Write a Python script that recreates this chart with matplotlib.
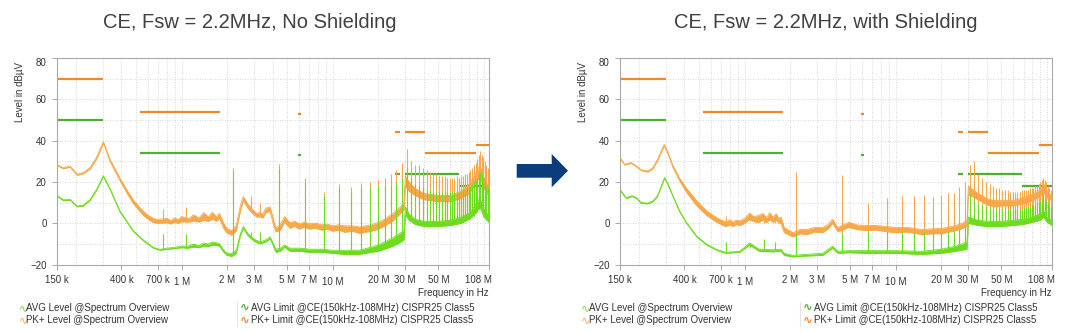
import matplotlib
matplotlib.use("Agg")
import matplotlib.pyplot as plt
from matplotlib.patches import Polygon
from matplotlib.lines import Line2D
from matplotlib.ticker import FixedLocator, NullFormatter, LogLocator
from matplotlib.transforms import ScaledTranslation

plt.rcParams['font.family'] = ['Liberation Sans', 'DejaVu Sans']

# ---------------- data (frequency in MHz, level in dBuV) ----------------
TITLES = ["CE, Fsw = 2.2MHz, No Shielding", "CE, Fsw = 2.2MHz, with Shielding"]
XTICKS = [0.15, 0.4, 0.7, 1, 2, 3, 5, 7, 10, 20, 30, 50, 108]
XTICK_LABELS = ["150 k", "400 k", "700 k", "1 M", "2 M", "3 M", "5 M", "7 M", "10 M",
                "20 M", "30 M", "50 M", "108 M"]
YTICKS = [-20, 0, 20, 40, 60, 80]

# limits: start, stop, level
PK_LIM_START = [0.15, 0.53, 5.9, 26, 30, 41, 88]
PK_LIM_STOP = [0.30, 1.8, 6.2, 28, 41, 88, 108]
PK_LIM_LEVEL = [70, 54, 53, 44, 44, 34, 38]
AVG_LIM_START = [0.15, 0.53, 5.9, 26, 30, 68]
AVG_LIM_STOP = [0.30, 1.8, 6.2, 28, 68, 108]
AVG_LIM_LEVEL = [50, 34, 33, 24, 24, 18]

# ---- No shielding ----
L_PK_F = [0.150, 0.165, 0.183, 0.204, 0.224, 0.248, 0.274, 0.304, 0.336, 0.392, 0.44, 0.48,
          0.52, 0.56, 0.60, 0.65, 0.70, 0.80, 0.85, 0.90, 0.95, 1.00, 1.12, 1.20, 1.30, 1.40,
          1.50, 1.60, 1.70, 1.78, 1.90, 2.00, 2.15, 2.30, 2.45, 2.56, 2.75, 3.00, 3.15, 3.30,
          3.45, 3.60, 3.85, 4.05, 4.20, 4.50, 4.80, 5.20, 5.60, 6.00, 6.50, 7.00, 7.70, 8.50,
          9.20, 10.0, 11.0, 12.0, 13.5, 15.0, 16.5, 18.0, 20.0, 22.0, 25.0, 27.5, 29.6, 30.2,
          32.0, 35.0, 40.0, 50.0, 60.0, 70.0, 80.0, 88.0, 94.0, 100.0, 108.0]
L_PK_LO = [28.0, 26.4, 27.2, 23.2, 24.0, 26.2, 31.0, 38.8, 30.0, 20.5, 14.0, 9.5,
           6.5, 3.8, 2.0, 0.4, 0.0, 0.3, -0.3, 0.5, 0.0, 0.8, 0.6, 1.2, 0.6, 1.6,
           1.0, 2.0, 1.0, 2.4, -2.5, -4.8, -5.6, -3.8, 6.0, 11.0, 7.2, 4.2, 3.0, 3.2,
           2.6, 5.0, 6.0, -0.8, -4.2, -3.3, 0.6, -2.4, -1.4, -2.8, -1.8, -2.8, -2.3, -3.3,
           -2.8, -3.8, -3.3, -4.3, -3.8, -4.8, -4.3, -3.8, -2.8, -1.3, 1.2, 4.2, 6.5, 18.0,
           15.5, 13.5, 11.5, 10.5, 10.5, 12.0, 14.5, 19.0, 23.0, 17.0, 13.0]
L_PK_HI = [28.5, 26.9, 27.7, 23.8, 24.6, 27.0, 32.0, 39.5, 31.0, 21.8, 15.6, 11.3,
           8.3, 5.8, 4.0, 2.4, 1.9, 2.4, 1.4, 2.7, 1.8, 3.3, 2.3, 4.2, 2.6, 5.2,
           3.2, 5.4, 3.2, 4.8, 0.0, -2.6, -3.5, -1.0, 8.6, 13.0, 9.2, 6.2, 4.8, 5.3,
           4.4, 7.3, 8.0, 1.8, -2.2, -0.6, 3.3, 0.3, 1.0, -0.2, 0.6, -0.2, 0.1, -0.7,
           -0.4, -1.2, -0.7, -1.2, -1.2, -1.7, -1.2, -0.7, 0.5, 2.0, 4.8, 7.5, 10.0, 23.0,
           20.0, 17.0, 14.5, 13.5, 13.5, 15.5, 19.0, 24.0, 28.0, 22.0, 17.0]
L_AVG_F = [0.150, 0.165, 0.183, 0.204, 0.224, 0.248, 0.274, 0.304, 0.336, 0.392, 0.48, 0.56,
           0.65, 0.72, 0.80, 0.90, 1.00, 1.10, 1.20, 1.30, 1.40, 1.50, 1.60, 1.78, 1.90, 2.00,
           2.15, 2.30, 2.45, 2.56, 2.75, 3.00, 3.30, 3.60, 3.85, 4.05, 4.20, 4.50, 4.80, 5.20,
           6.00, 7.00, 8.50, 10.0, 12.0, 15.0, 18.0, 20.0, 22.0, 25.0, 27.5, 29.6, 30.2, 32.0,
           35.0, 40.0, 50.0, 60.0, 70.0, 80.0, 88.0, 94.0, 100.0, 108.0]
L_AVG_LO = [13.2, 11.0, 11.2, 8.0, 8.4, 11.0, 16.0, 22.6, 16.5, 5.5, -4.0, -8.5,
            -12.0, -13.0, -12.6, -12.2, -11.8, -12.0, -11.5, -11.8, -11.0, -11.2, -10.5, -11.0, -14.0, -15.5,
            -16.0, -14.5, -6.0, -2.5, -6.0, -8.5, -10.0, -9.0, -7.5, -11.0, -14.0, -13.5, -11.5, -13.5,
            -13.5, -14.0, -14.0, -14.5, -15.0, -15.0, -14.0, -13.5, -12.5, -11.0, -9.5, -8.0, 4.0, 1.5,
            -0.5, -1.5, -1.5, -1.0, 0.0, 2.0, 5.0, 8.0, 3.0, 0.5]
L_AVG_HI = [13.6, 11.4, 11.6, 8.4, 8.8, 11.4, 16.4, 23.0, 16.9, 5.9, -3.6, -8.1,
            -11.6, -12.6, -12.0, -11.6, -11.0, -11.0, -10.0, -10.8, -9.5, -10.0, -9.0, -9.8, -13.0, -14.5,
            -14.5, -13.0, -5.0, -1.5, -5.0, -7.5, -9.0, -8.0, -6.5, -10.0, -12.5, -12.0, -10.5, -12.0,
            -12.0, -12.5, -12.5, -13.0, -13.0, -13.0, -11.5, -10.5, -9.0, -7.0, -5.0, -3.5, 8.0, 4.5,
            2.0, 1.0, 1.0, 1.5, 3.0, 5.0, 9.0, 12.0, 7.0, 3.5]
# spikes: frequency, PK bottom/top, AVG bottom/top
L_SPK_F = [0.75, 1.07, 2.2, 2.9, 3.3, 4.4, 6.6, 8.8, 11.0, 13.2, 15.4, 17.6, 19.8, 22.0, 24.2,
           26.4, 28.6, 30.8, 33.0, 35.2, 37.4, 39.6, 41.8, 44.0, 46.2, 48.4, 50.6, 52.8, 55.0,
           57.2, 59.4, 61.6, 63.8, 66.0, 68.2, 70.4, 72.6, 74.8, 77.0, 79.2, 81.4, 83.6, 85.8,
           88.0, 90.2, 92.4, 94.6, 96.8, 99.0, 101.2, 103.4, 105.6, 107.8]
L_SPK_PK_LO = [0.5, 1.0, -15, 6.0, 4.0, -13, -12.5, -12.5, -13, -13, -13, -12, -11, -10, -9,
               -7, -5, 5, 2, 0, -0.5, -1, -1.5, -1.5, -1.5, -1.5, -1.5, -1.5, -1.5,
               -1, -1, -1, -0.5, -0.5, 0, 0, 0.5, 1, 1.5, 2, 2.5, 3, 3.5,
               5, 6, 7, 8, 7, 5, 3, 2, 1, 0.5]
L_SPK_PK_HI = [7, 8, 27, 13, 10, 28.5, 22, 15, 19, 17.5, 19.5, 20, 21, 22, 24,
               26, 29, 36, 30, 28, 28, 27, 26, 25, 24, 24, 23, 23, 23,
               22, 22, 22, 22, 23, 22, 23, 23, 24, 24, 25, 26, 27, 28,
               29, 31, 33, 35, 33, 32, 30, 28, 27, 25]
L_SPK_AVG_LO = [-13, -12, -15, -6, -9, -13, -12.5, -12.5, -13, -13, -13, -12, -11, -10, -9,
                -7, -5, 5, 2, 0, -0.5, -1, -1.5, -1.5, -1.5, -1.5, -1.5, -1.5, -1.5,
                -1, -1, -1, -0.5, -0.5, 0, 0, 0.5, 1, 1.5, 2, 2.5, 3, 3.5,
                5, 6, 7, 8, 7, 5, 3, 2, 1, 0.5]
L_SPK_AVG_HI = [-5, -5, 25, -4, -4, 26.5, 20, 13, 17, 15, 17, 17, 18, 18, 19,
                20, 22, 27, 22, 19, 18, 17, 16, 16, 15, 15, 15, 15, 15,
                15, 15, 15, 15, 15, 15, 16, 16, 16, 17, 17, 18, 19, 20,
                21, 22, 24, 25, 24, 22, 20, 18, 17, 16]

# ---- With shielding ----
R_PK_F = [0.150, 0.161, 0.178, 0.193, 0.207, 0.229, 0.248, 0.266, 0.294, 0.312, 0.336, 0.372,
          0.413, 0.482, 0.562, 0.653, 0.70, 0.75, 0.80, 0.84, 0.88, 0.93, 1.00, 1.08, 1.15,
          1.25, 1.32, 1.40, 1.47, 1.54, 1.62, 1.68, 1.74, 1.83, 2.09, 2.35, 2.57, 2.9, 3.29,
          3.55, 3.82, 4.14, 4.9, 5.6, 6.4, 7.4, 8.6, 10.0, 12.0, 15.0, 17.5, 20.0, 22.5,
          25.0, 27.5, 29.6, 30.2, 35.0, 40.0, 45.0, 50.0, 60.0, 70.0, 80.0, 90.0, 95.0,
          100.0, 108.0]
R_PK_LO = [31.5, 28.2, 29.0, 27.4, 25.5, 24.8, 26.4, 30.3, 37.6, 33.5, 27.0, 20.5,
           15.0, 8.5, 3.8, 0.5, -0.5, -1.5, -0.8, -1.5, -0.6, -1.0, 0.0, 2.0, 0.8,
           0.5, 1.5, 0.4, 1.8, 0.5, 1.6, 0.2, 0.0, -4.5, -6.5, -5.0, -5.5, -4.2, -4.5,
           -2.8, 0.0, -4.0, -2.0, -3.0, -3.5, -3.2, -4.0, -4.5, -4.2, -5.5, -5.0, -5.0, -4.2,
           -3.5, -2.5, -1.5, 14.0, 11.5, 9.0, 8.0, 8.5, 8.5, 9.5, 11.0, 13.0, 15.0,
           12.5, 11.0]
R_PK_HI = [31.9, 28.6, 29.4, 27.8, 25.9, 25.4, 27.0, 31.0, 38.2, 34.3, 28.0, 21.8,
           17.0, 11.0, 6.0, 2.8, 1.6, 0.8, 1.8, 0.6, 1.6, 1.2, 2.4, 5.0, 3.2,
           4.0, 4.8, 2.8, 5.2, 3.0, 4.6, 2.4, 3.0, -2.0, -4.5, -2.8, -3.0, -2.0, -2.0,
           -0.6, 2.0, -2.0, 0.5, -0.8, -1.0, -1.0, -1.5, -2.0, -2.0, -3.0, -2.6, -2.5, -1.8,
           -1.0, 0.0, 1.5, 18.0, 14.5, 12.0, 11.0, 11.0, 11.0, 12.5, 14.0, 16.0, 19.0,
           15.5, 13.5]
R_AVG_F = [0.150, 0.165, 0.180, 0.193, 0.207, 0.229, 0.248, 0.266, 0.296, 0.312, 0.336, 0.372,
           0.413, 0.482, 0.562, 0.653, 0.75, 0.93, 1.08, 1.25, 1.54, 1.74, 1.83, 2.09, 2.57,
           3.29, 3.82, 4.14, 4.9, 6.4, 10.0, 15.0, 20.0, 25.0, 29.6, 30.2, 35.0, 40.0, 50.0,
           60.0, 70.0, 80.0, 90.0, 95.0, 100.0, 108.0]
R_AVG_LO = [16.0, 12.0, 13.0, 12.0, 9.7, 9.4, 10.5, 13.0, 21.8, 18.5, 13.0, 5.6,
            0.0, -6.5, -10.5, -13.0, -14.5, -14.0, -10.5, -13.5, -13.8, -13.5, -15.5, -16.2, -15.8,
            -15.5, -12.0, -14.5, -14.2, -14.5, -14.5, -15.0, -14.5, -13.5, -12.5, 0.0, -1.0, -1.5, -1.5,
            -1.0, -0.5, 0.5, 1.5, 3.0, 0.5, -1.0]
R_AVG_HI = [16.4, 12.4, 13.4, 12.4, 10.1, 9.8, 10.9, 13.4, 22.2, 18.9, 13.4, 6.0,
            0.4, -6.1, -10.1, -12.6, -14.0, -13.5, -9.5, -12.5, -12.8, -12.5, -14.5, -15.5, -15.0,
            -14.5, -11.0, -13.5, -13.2, -13.2, -13.2, -13.5, -12.5, -11.0, -9.0, 3.0, 1.5, 1.0, 1.0,
            1.5, 2.0, 3.0, 4.5, 6.0, 3.0, 1.5]
R_SPK_F = [0.75, 1.08, 1.35, 1.6, 2.2, 4.4, 6.6, 8.8, 11.0, 13.2, 15.4, 17.6, 19.8, 22.0, 24.2,
           26.4, 28.6, 30.8, 33.0, 35.2, 37.4, 39.6, 41.8, 44.0, 46.2, 48.4, 50.6, 52.8, 55.0,
           57.2, 59.4, 61.6, 63.8, 66.0, 68.2, 70.4, 72.6, 74.8, 77.0, 79.2, 81.4, 83.6, 85.8,
           88.0, 90.2, 92.4, 94.6, 96.8, 99.0, 101.2, 103.4, 105.6, 107.8]
R_SPK_PK_LO = [-1, 1, 0, 0, -16, -14, -14, -14, -14, -14, -14, -14, -13.5, -13.5, -13,
               -12.5, -12, 1, 0.5, 0, -0.5, -1, -1, -1, -1, -1, -1, -1, -1,
               -0.5, -0.5, 0, 0, 0, 0.5, 0.5, 1, 1, 1.5, 1.5, 2, 2, 2.5,
               3, 3.5, 4, 5, 4, 3, 2, 1, 0, -0.5]
R_SPK_PK_HI = [3.5, 5, 4, 4, 25, 23.4, 9.7, 12.4, 13, 13, 13.7, 12.9, 13.7, 14.5, 14.8,
               17.7, 20, 28, 30, 24, 22, 20, 19, 18, 17, 17, 16, 16, 16,
               15, 15, 15, 15, 15, 16, 16, 16, 16, 17, 17, 17, 18, 18,
               19, 20, 21, 22, 21, 20, 18, 17, 16, 15]
R_SPK_AVG_LO = [-14.5, -12, -13, -13, -16, -14, -14, -14, -14, -14, -14, -14, -13.5, -13.5, -13,
                -12.5, -12, 1, 0.5, 0, -0.5, -1, -1, -1, -1, -1, -1, -1, -1,
                -0.5, -0.5, 0, 0, 0, 0.5, 0.5, 1, 1, 1.5, 1.5, 2, 2, 2.5,
                3, 3.5, 4, 5, 4, 3, 2, 1, 0, -0.5]
R_SPK_AVG_HI = [-9, -9.7, -7.6, -9, -5, -5, -4, -4, -4, -4, -4, -4, -4, -4, -4,
                -3, -2, 14, 12, 10, 9, 8, 8, 7, 7, 7, 7, 7, 7,
                7, 7, 7, 7, 7, 7, 8, 8, 8, 8, 9, 9, 9, 10,
                10, 11, 12, 13, 12, 11, 10, 9, 8, 7]

# ---------------- styling ----------------
PK_TRACE = "#F8A848"
AVG_TRACE = "#6EDC1E"
PK_LIMIT = "#F08A26"
AVG_LIMIT = "#4DB030"
GRID = "#C8C8C8"
FRAME = "#A8A8A8"
TXT = "#333333"

W, H = 1080, 332
fig = plt.figure(figsize=(W / 100, H / 100), dpi=100)
fig.patch.set_facecolor("white")


def fx(px):
    return px / W


def fy(py):
    return 1 - py / H


panels = [
    dict(left=57, title_x=250, pk=(L_PK_F, L_PK_LO, L_PK_HI), avg=(L_AVG_F, L_AVG_LO, L_AVG_HI),
         spk=(L_SPK_F, L_SPK_PK_LO, L_SPK_PK_HI, L_SPK_AVG_LO, L_SPK_AVG_HI)),
    dict(left=620, title_x=826, pk=(R_PK_F, R_PK_LO, R_PK_HI), avg=(R_AVG_F, R_AVG_LO, R_AVG_HI),
         spk=(R_SPK_F, R_SPK_PK_LO, R_SPK_PK_HI, R_SPK_AVG_LO, R_SPK_AVG_HI)),
]

top_px, bot_px, wid_px = 58, 264.7, 432

for i, p in enumerate(panels):
    ax = fig.add_axes([fx(p["left"]), fy(bot_px), fx(wid_px), (bot_px - top_px) / H])
    ax.set_xscale("log")
    ax.set_xlim(0.15, 108)
    ax.set_ylim(-20, 80)

    # grid
    ax.xaxis.set_minor_locator(LogLocator(base=10, subs=range(1, 10), numticks=20))
    ax.xaxis.set_minor_formatter(NullFormatter())
    ax.xaxis.set_major_locator(FixedLocator(XTICKS))
    ax.set_xticklabels(XTICK_LABELS)
    ax.set_yticks(YTICKS)
    ax.set_yticks(list(range(-10, 80, 20)), minor=True)
    ax.grid(True, which="both", axis="both", color=GRID, linestyle=(0, (1, 2)), linewidth=0.6)
    ax.set_axisbelow(True)
    ax.tick_params(axis="x", which="minor", length=0)
    ax.tick_params(axis="y", which="minor", length=0)
    ax.tick_params(axis="both", which="major", length=3.5, width=0.7, color=FRAME,
                   labelsize=7, labelcolor=TXT)
    ax.tick_params(axis="x", which="major", pad=4)
    ax.tick_params(axis="y", which="major", pad=4)
    for s in ax.spines.values():
        s.set_color(FRAME)
        s.set_linewidth(0.8)

    # tick label tweaks
    xl = ax.get_xticklabels()
    for lab, txt in zip(xl, XTICK_LABELS):
        if txt in ("1 M", "10 M"):
            lab.set_transform(lab.get_transform() + ScaledTranslation(0, -1.5 / 72, fig.dpi_scale_trans))
        if txt == "108 M":
            lab.set_horizontalalignment("right")
            lab.set_transform(lab.get_transform() + ScaledTranslation(2 / 72, 0, fig.dpi_scale_trans))
    yl = ax.get_yticklabels()
    yl[-1].set_verticalalignment("top")

    # limits (beneath data)
    ax.hlines(PK_LIM_LEVEL, PK_LIM_START, PK_LIM_STOP, colors=PK_LIMIT, linewidth=1.6, zorder=2)
    ax.hlines(AVG_LIM_LEVEL, AVG_LIM_START, AVG_LIM_STOP, colors=AVG_LIMIT, linewidth=1.6, zorder=2)

    # PK trace
    f, lo, hi = p["pk"]
    ax.fill_between(f, lo, hi, color=PK_TRACE, linewidth=0, zorder=3)
    ax.plot(f, lo, color=PK_TRACE, linewidth=0.6, zorder=3)
    ax.plot(f, hi, color=PK_TRACE, linewidth=0.6, zorder=3)
    sf, plo, phi, alo, ahi = p["spk"]
    ax.vlines(sf, plo, phi, colors=PK_TRACE, linewidth=0.8, zorder=3)

    # AVG trace
    f, lo, hi = p["avg"]
    ax.fill_between(f, lo, hi, color=AVG_TRACE, linewidth=0, zorder=4)
    ax.plot(f, lo, color=AVG_TRACE, linewidth=0.6, zorder=4)
    ax.plot(f, hi, color=AVG_TRACE, linewidth=0.6, zorder=4)
    ax.vlines(sf, alo, ahi, colors=AVG_TRACE, linewidth=0.8, zorder=4)

    # texts
    fig.text(fx(p["title_x"]), fy(22.7), TITLES[i], fontsize=14.5, color="#404040",
             ha="center", va="center")
    fig.text(fx(p["left"] - 37), fy(92), "Level in dBµV", rotation=90, fontsize=7,
             color=TXT, ha="center", va="center")
    fig.text(fx(p["left"] + wid_px), fy(292.5), "Frequency in Hz", fontsize=7, color=TXT,
             ha="right", va="center")

    # legend
    lx = p["left"]
    rows = [(fy(307.7), AVG_TRACE, "AVG Level @Spectrum Overview", AVG_LIMIT,
             "AVG Limit @CE(150kHz-108MHz) CISPR25 Class5"),
            (fy(320.3), PK_TRACE, "PK+ Level @Spectrum Overview", PK_LIMIT,
             "PK+ Limit @CE(150kHz-108MHz) CISPR25 Class5")]
    for yy, c1, t1, c2, t2 in rows:
        fig.text(fx(lx - 34), yy, "∿", fontsize=8, color=c1, ha="center", va="center",
                 family=["DejaVu Sans"])
        fig.text(fx(lx - 31), yy, t1, fontsize=7, color=TXT, ha="left", va="center")
        fig.text(fx(lx + 188), yy, "∿", fontsize=8.5, color=c2, ha="center", va="center",
                 family=["DejaVu Sans"], fontweight="bold")
        fig.text(fx(lx + 194), yy, t2, fontsize=7, color=TXT, ha="left", va="center")
    fig.add_artist(Line2D([fx(lx + 180), fx(lx + 180)], [fy(302), fy(326)],
                          color="#E4E4E4", linewidth=0.8))

# arrow between panels
arrow_pts = [(516.7, 164), (551.7, 164), (551.7, 154), (568, 170.7), (551.7, 187.3),
             (551.7, 177.7), (516.7, 177.7)]
fig.add_artist(Polygon([(fx(x), fy(y)) for x, y in arrow_pts], closed=True,
                       facecolor="#0B3C7C", edgecolor="none", transform=fig.transFigure))

fig.savefig("out.png", dpi=100, facecolor="white")
